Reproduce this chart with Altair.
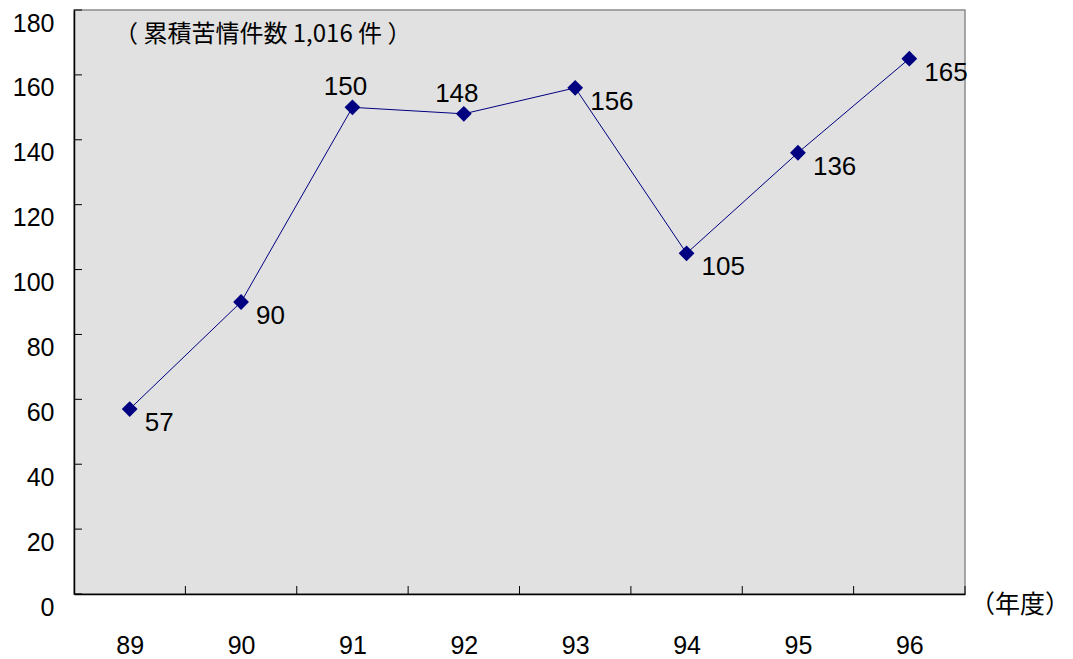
import altair as alt
import pandas as pd

# Complaint counts by fiscal year
years = ["89", "90", "91", "92", "93", "94", "95", "96"]
counts = [57, 90, 150, 148, 156, 105, 136, 165]
label_side = ["right", "right", "above", "above", "right", "right", "right", "right"]

y_ticks = list(range(0, 181, 20))

W, H = 891, 584
FONT = "Liberation Sans"
CJK = "Noto Sans CJK JP"
NAVY = "#000080"

df = pd.DataFrame({
    "pos": [i + 0.5 for i in range(len(years))],
    "year": years,
    "count": counts,
    "side": label_side,
})

label_expr = "{" + ",".join(f"'{i + 0.5}':'{y}'" for i, y in enumerate(years)) + "}[toString(datum.value)]"

x_enc = alt.X(
    "pos:Q",
    scale=alt.Scale(domain=[0, len(years)], nice=False, zero=False),
    axis=alt.Axis(
        values=[i + 0.5 for i in range(len(years))],
        labelExpr=label_expr,
        ticks=False,
        grid=False,
        title=None,
        labelFont=FONT,
        labelFontSize=25,
        labelColor="#000000",
        labelPadding=39,
        domainColor="#000000",
        domainWidth=1.5,
    ),
)
y_enc = alt.Y(
    "count:Q",
    scale=alt.Scale(domain=[0, 180], nice=False),
    axis=alt.Axis(
        values=y_ticks,
        ticks=False,
        grid=False,
        title=None,
        labelFont=FONT,
        labelFontSize=25,
        labelColor="#000000",
        labelPadding=20,
        labelOffset=13,
        domainColor="#000000",
        domainWidth=1.5,
    ),
)

base = alt.Chart(df)

line = base.mark_line(color=NAVY, strokeWidth=1).encode(x=x_enc, y=y_enc)
points = base.mark_point(shape="diamond", filled=True, color=NAVY, size=250, opacity=1).encode(
    x="pos:Q", y="count:Q"
)

labels_right = base.transform_filter(alt.datum.side == "right").mark_text(
    font=FONT, fontSize=26, color="#000000", align="left", baseline="middle", dx=15, dy=14
).encode(x="pos:Q", y="count:Q", text="count:Q")

labels_above = base.transform_filter(alt.datum.side == "above").mark_text(
    font=FONT, fontSize=26, color="#000000", align="center", baseline="middle", dx=-7, dy=-20
).encode(x="pos:Q", y="count:Q", text="count:Q")

# Inward tick marks on the x axis at category boundaries
xb = pd.DataFrame({"b": list(range(1, len(years) + 1))})
x_ticks = alt.Chart(xb).mark_rule(color="#000000", strokeWidth=1).encode(
    x="b:Q", y=alt.value(H), y2=alt.value(H - 8)
)

# Inward tick marks on the y axis
yt = pd.DataFrame({"v": y_ticks})
y_tick_marks = alt.Chart(yt).mark_rule(color="#000000", strokeWidth=1).encode(
    y="v:Q", x=alt.value(0), x2=alt.value(8)
)

note = alt.Chart(pd.DataFrame({"t": ["（ 累積苦情件数 1,016 件 ）"]})).mark_text(
    font=CJK, fontSize=24, color="#000000", align="left", baseline="middle"
).encode(x=alt.value(40), y=alt.value(25), text="t:N")

unit = alt.Chart(pd.DataFrame({"t": ["（年度）"]})).mark_text(
    font=CJK, fontSize=25, color="#000000", align="left", baseline="middle"
).encode(x=alt.value(W + 5), y=alt.value(H + 11), text="t:N")

chart = alt.layer(
    line, x_ticks, y_tick_marks, points, labels_right, labels_above, note, unit
).properties(
    width=W,
    height=H,
    autosize=alt.AutoSizeParams(type="none"),
    padding={"left": 74, "top": 10, "right": 108, "bottom": 65},
    background="#ffffff",
).configure_view(
    fill="#e1e1e1", stroke="#8c8c8c", strokeWidth=1.5
)

chart.save("out.html", embed_options={"renderer": "svg", "actions": False})
